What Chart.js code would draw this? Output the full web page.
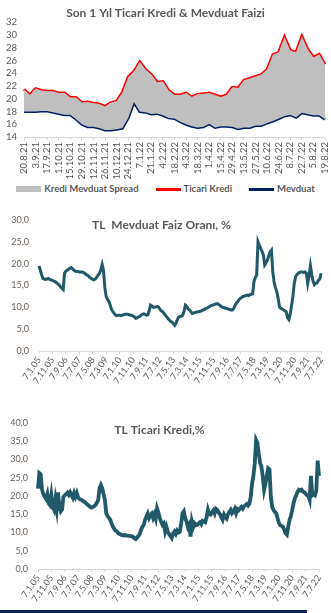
<!DOCTYPE html>
<html>
<head>
<meta charset="utf-8">
<script src="https://cdn.jsdelivr.net/npm/chart.js@4.4.1/dist/chart.umd.min.js"></script>
<style>
  body { margin: 0; background: #fff; width: 331px; height: 613px; position: relative; overflow: hidden; }
  canvas { position: absolute; left: 0; }
  #legend1 { position: absolute; left: 0; top: 183px; width: 331px; display: flex; justify-content: center;
    gap: 17px; font: bold 9.5px Lato, sans-serif; color: #595959; line-height: 12px; }
  #legend1 .item { display: flex; align-items: center; }
  #legend1 .mark { width: 25px; margin-right: 3px; }
  #bar { position: absolute; left: 0; top: 610px; width: 307px; height: 3px; background: #0f2454; }
</style>
</head>
<body>
<canvas id="spread" width="331" height="182" style="top:0"></canvas>
<div id="legend1"></div>
<canvas id="mevduat" width="331" height="195" style="top:200px"></canvas>
<canvas id="kredi" width="331" height="215" style="top:395px"></canvas>
<div id="bar"></div>
<script>
// son 1 yil, haftalik
var weeks = ['20.8.21','27.8.21','3.9.21','10.9.21','17.9.21','24.9.21','1.10.21','8.10.21','15.10.21','22.10.21',
  '29.10.21','5.11.21','12.11.21','19.11.21','26.11.21','3.12.21','10.12.21','17.12.21','24.12.21','31.12.21',
  '7.1.22','14.1.22','21.1.22','28.1.22','4.2.22','11.2.22','18.2.22','25.2.22','4.3.22','11.3.22',
  '18.3.22','25.3.22','1.4.22','8.4.22','15.4.22','22.4.22','29.4.22','6.5.22','13.5.22','20.5.22',
  '27.5.22','3.6.22','10.6.22','17.6.22','24.6.22','1.7.22','8.7.22','15.7.22','22.7.22','29.7.22',
  '5.8.22','12.8.22','19.8.22'];
var ticariKredi1y = [21.5,20.6,21.6,21.3,21.2,21.2,20.9,20.9,20.2,20.2,
  19.4,19.5,19.3,19.2,18.8,19.4,19.6,21.0,23.4,24.3,
  25.8,24.6,23.8,22.6,22.7,21.3,20.6,20.6,20.9,20.3,
  20.7,20.8,20.9,20.6,20.3,20.6,21.8,21.7,22.9,23.2,
  23.5,23.8,24.6,26.9,27.3,29.7,27.6,27.3,29.8,27.8,
  26.5,27.0,25.4];
var mevduat1y = [18.0,18.0,18.0,18.1,18.1,17.9,17.7,17.5,17.5,16.8,
  16.0,15.6,15.6,15.4,15.1,15.1,15.2,15.4,17.0,19.5,
  18.0,17.9,17.6,17.7,17.4,17.0,16.9,16.4,16.0,15.7,
  15.5,15.6,16.1,15.5,15.7,15.7,15.6,15.3,15.5,15.5,
  15.8,15.8,16.2,16.5,16.9,17.3,17.5,17.1,17.8,17.6,
  17.4,17.4,16.8];

// 2005-2022, aylik (her ayin 7'si)
var months = [];
for (var y = 2005; y <= 2022; y++) {
  for (var m = 1; m <= 12; m++) {
    if (y === 2022 && m > 7) break;
    months.push('7.' + m + '.' + String(y).slice(2));
  }
}
var mevduatTL = [
  19.5,18.5,17.4,16.6,16.5,16.4,16.5,16.6,16.4,16.3,16.2,16.0,
  15.9,15.6,15.4,15.1,14.7,14.4,14.1,17.8,18.3,18.5,18.7,19.0,
  19.1,18.8,18.5,18.3,18.2,18.2,18.1,18.1,18.1,18.0,17.8,17.5,
  17.4,17.1,16.8,16.6,16.4,16.3,16.5,16.9,17.4,17.8,18.5,19.8,
  18.5,14.5,12.5,11.8,11.4,10.5,9.5,9.0,8.6,8.2,8.1,8.2,
  8.2,8.1,8.2,8.3,8.4,8.4,8.4,8.3,8.2,8.2,8.0,7.8,
  7.5,7.6,7.8,7.9,8.2,8.4,8.5,8.4,8.2,8.3,9.2,10.5,
  10.3,10.0,10.0,10.1,10.2,10.0,9.6,9.2,9.0,8.6,8.2,7.8,
  7.4,7.1,6.8,6.6,6.3,5.9,6.4,7.2,7.8,7.9,8.0,8.2,
  9.2,10.5,10.2,9.6,9.4,9.0,8.6,8.7,8.8,8.9,9.0,9.0,
  9.1,9.2,9.4,9.5,9.7,9.8,10.0,10.2,10.4,10.5,10.6,10.7,
  10.8,10.8,10.6,10.4,10.1,10.0,9.9,9.8,9.7,9.6,9.5,9.4,
  9.4,9.8,10.5,11.0,11.3,11.8,12.1,12.3,12.5,12.6,12.7,12.8,
  12.7,12.9,13.0,13.1,15.9,16.8,17.4,25.0,24.2,23.5,22.8,22.0,
  19.7,20.2,20.8,21.8,22.7,23.1,18.1,15.8,14.5,13.6,12.0,10.1,
  9.8,9.6,9.4,9.2,9.0,7.6,7.2,8.5,10.5,12.6,15.5,17.0,
  17.5,17.8,18.0,18.1,18.1,18.0,18.1,17.8,15.5,17.2,19.5,17.5,
  15.9,15.2,15.5,15.6,16.2,16.5,17.8];
var ticariKrediTL = [
  22.0,26.3,26.0,21.8,20.5,19.8,19.2,20.5,18.0,17.5,20.2,17.0,
  16.2,19.0,16.5,21.0,17.0,15.8,16.3,19.8,20.2,20.5,20.9,20.3,
  21.0,20.2,19.5,20.8,19.8,20.8,19.6,19.2,19.0,18.8,18.5,18.3,
  18.0,17.6,17.4,17.0,16.8,17.0,17.2,17.5,18.2,18.9,22.1,23.0,
  22.1,20.5,18.9,15.3,14.5,14.0,13.5,12.5,11.6,11.0,10.5,10.3,
  9.8,9.6,9.4,9.3,9.2,9.3,9.2,9.1,9.1,9.0,9.0,8.8,
  8.4,8.2,8.6,9.0,9.6,10.7,11.6,12.0,13.5,14.4,15.2,14.0,
  14.8,15.2,14.0,15.0,13.8,16.6,15.5,13.9,13.0,12.1,12.5,10.3,
  11.5,10.2,9.6,9.0,8.5,9.8,10.3,9.6,10.5,10.0,10.2,12.5,
  15.3,15.8,14.0,13.0,11.5,12.2,8.9,13.0,11.5,12.5,12.0,12.1,
  12.5,12.8,12.3,13.2,13.0,12.8,14.2,16.2,15.0,14.9,15.5,16.0,
  15.2,16.5,16.2,15.5,15.0,14.2,13.5,14.9,14.2,13.8,15.0,15.6,
  16.2,15.3,15.8,16.5,15.3,16.4,16.1,16.6,17.0,16.5,17.2,17.5,
  17.8,17.4,17.9,19.8,23.5,25.5,29.0,35.3,34.5,31.5,29.0,28.0,
  25.3,21.7,23.3,25.5,27.6,27.3,19.8,17.0,16.2,15.6,15.3,14.0,
  12.6,12.0,11.8,11.6,10.8,9.8,9.4,11.6,13.5,14.5,16.2,18.0,
  19.4,20.2,21.2,21.7,21.5,21.7,21.2,21.0,20.6,20.2,20.0,18.9,
  25.5,20.2,20.5,20.2,21.5,29.7,25.5];

var grey = '#595959';
Chart.defaults.font.family = 'Lato';
Chart.defaults.color = grey;
Chart.defaults.animation = false;

function everyNth(n) {
  return function (scale) {
    scale.ticks = scale.ticks.filter(function (t, i) { return i % n === 0; });
  };
}
function commaFmt(v) { return v.toFixed(1).replace('.', ','); }

var spreadChart = new Chart(document.getElementById('spread'), {
  type: 'line',
  data: {
    labels: weeks,
    datasets: [
      { label: 'Kredi Mevduat Spread', data: ticariKredi1y, fill: 2, backgroundColor: '#bfbfbf',
        borderWidth: 0, pointRadius: 0 },
      { label: 'Ticari Kredi', data: ticariKredi1y, fill: false, borderColor: '#ff0000',
        borderWidth: 3, pointRadius: 0 },
      { label: 'Mevduat', data: mevduat1y, fill: false, borderColor: '#002060',
        borderWidth: 3, pointRadius: 0 }
    ]
  },
  options: {
    responsive: false,
    devicePixelRatio: 1,
    layout: { padding: 0 },
    plugins: {
      title: { display: true, text: 'Son 1 Yıl Ticari Kredi & Mevduat Faizi',
        font: { size: 12, weight: 'bold' }, color: grey, padding: { top: 6, bottom: 2 } },
      legend: { display: false },
      tooltip: { enabled: false }
    },
    scales: {
      x: {
        afterBuildTicks: everyNth(2),
        afterFit: function (s) { s.height = 45; s.paddingLeft = 0; s.paddingRight = 6; },
        ticks: { autoSkip: false, minRotation: 90, maxRotation: 90, font: { size: 9.5 }, color: grey, padding: 2 },
        grid: { drawOnChartArea: false, tickLength: 3, color: '#d9d9d9' },
        border: { color: '#d9d9d9' }
      },
      y: {
        min: 14, max: 32,
        afterFit: function (s) { s.width = 24; },
        ticks: { stepSize: 2, autoSkip: false, font: { size: 9.5 }, color: grey, padding: 7 },
        grid: { display: false, drawTicks: false },
        border: { display: false }
      }
    }
  }
});

// legend under the first chart, built from its datasets
var legendBox = document.getElementById('legend1');
spreadChart.data.datasets.forEach(function (ds) {
  var item = document.createElement('div');
  item.className = 'item';
  var mark = document.createElement('span');
  mark.className = 'mark';
  if (ds.borderWidth) {
    mark.style.height = ds.borderWidth + 'px';
    mark.style.background = ds.borderColor;
  } else {
    mark.style.height = '6px';
    mark.style.background = ds.backgroundColor;
  }
  var txt = document.createElement('span');
  txt.textContent = ds.label;
  item.appendChild(mark);
  item.appendChild(txt);
  legendBox.appendChild(item);
});

function longChart(id, label, values, yMax, title, box) {
  new Chart(document.getElementById(id), {
    type: 'line',
    data: {
      labels: months,
      datasets: [{ label: label, data: values, borderColor: '#215968', borderWidth: box.lw,
        pointRadius: 0, fill: false }]
    },
    options: {
      responsive: false,
      devicePixelRatio: 1,
      layout: { padding: { right: box.right } },
      plugins: {
        title: { display: true, text: title, font: { size: 12, weight: 'bold' }, color: grey,
          padding: { top: box.titleTop, bottom: box.titleBottom } },
        legend: { display: false },
        tooltip: { enabled: false }
      },
      scales: {
        x: {
          afterBuildTicks: everyNth(10),
          afterFit: function (s) { s.height = box.xh; },
          ticks: { autoSkip: false, minRotation: 55, maxRotation: 55, font: { size: 9 }, color: grey, padding: 1 },
          grid: { drawOnChartArea: false, tickLength: 3, color: '#d9d9d9' },
          border: { color: '#d9d9d9' }
        },
        y: {
          min: 0, max: yMax,
          afterFit: function (s) { s.width = box.yw; },
          ticks: { stepSize: 5, autoSkip: false, callback: commaFmt, font: { size: 9 }, color: '#6a5f55', padding: 10 },
          grid: { display: false, drawTicks: false },
          border: { display: false }
        }
      }
    }
  });
}

longChart('mevduat', 'Mevduat', mevduatTL, 30, 'TL  Mevduat Faiz Oranı, %',
  { lw: 3, right: 8, yw: 39, xh: 44, titleTop: 18, titleBottom: -12.4 });
longChart('kredi', 'Ticari Kredi', ticariKrediTL, 40, 'TL Ticari Kredi,%',
  { lw: 3.8, right: 12, yw: 38, xh: 41, titleTop: 28, titleBottom: -14.4 });
</script>
</body>
</html>
